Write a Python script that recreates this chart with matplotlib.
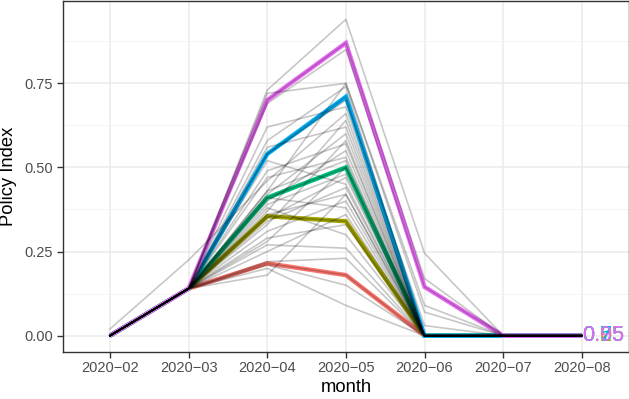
import matplotlib
matplotlib.use("Agg")
import matplotlib.pyplot as plt
import numpy as np

plt.rcParams['font.family'] = ['Liberation Sans', 'DejaVu Sans']

months = ["2020\u221202", "2020\u221203", "2020\u221204", "2020\u221205",
          "2020\u221206", "2020\u221207", "2020\u221208"]

# individual (gray) series
gray_lines = [
    [0.00, 0.14, 0.73, 0.94, 0.245, 0, 0],
    [0.00, 0.14, 0.72, 0.75, 0.09, 0, 0],
    [0.00, 0.14, 0.70, 0.87, 0.17, 0, 0],
    [0.00, 0.14, 0.69, 0.85, 0.145, 0, 0],
    [0.00, 0.14, 0.58, 0.74, 0, 0, 0],
    [0.00, 0.14, 0.56, 0.62, 0, 0, 0],
    [0.00, 0.14, 0.54, 0.71, 0, 0, 0],
    [0.00, 0.14, 0.54, 0.70, 0.03, 0, 0],
    [0.00, 0.14, 0.52, 0.45, 0, 0, 0],
    [0.00, 0.14, 0.49, 0.57, 0, 0, 0],
    [0.02, 0.225, 0.46, 0.66, 0, 0, 0],
    [0.00, 0.14, 0.43, 0.75, 0.07, 0, 0],
    [0.00, 0.14, 0.43, 0.52, 0, 0, 0],
    [0.00, 0.14, 0.42, 0.60, 0, 0, 0],
    [0.00, 0.14, 0.41, 0.50, 0, 0, 0],
    [0.00, 0.14, 0.41, 0.38, 0, 0, 0],
    [0.00, 0.14, 0.40, 0.55, 0, 0, 0],
    [0.00, 0.14, 0.39, 0.48, 0, 0, 0],
    [0.00, 0.14, 0.38, 0.30, 0, 0, 0],
    [0.00, 0.14, 0.37, 0.64, 0, 0, 0],
    [0.00, 0.14, 0.355, 0.34, 0, 0, 0],
    [0.00, 0.14, 0.36, 0.42, 0, 0, 0],
    [0.00, 0.14, 0.35, 0.47, 0, 0, 0],
    [0.00, 0.14, 0.34, 0.44, 0, 0, 0],
    [0.00, 0.14, 0.33, 0.58, 0, 0, 0],
    [0.00, 0.14, 0.31, 0.40, 0, 0, 0],
    [0.00, 0.14, 0.29, 0.33, 0, 0, 0],
    [0.00, 0.14, 0.28, 0.50, 0, 0, 0],
    [0.00, 0.14, 0.27, 0.26, 0, 0, 0],
    [0.00, 0.14, 0.25, 0.36, 0, 0, 0],
    [0.00, 0.14, 0.22, 0.23, 0, 0, 0],
    [0.00, 0.14, 0.215, 0.18, 0, 0, 0],
    [0.00, 0.14, 0.21, 0.15, 0, 0, 0],
    [0.00, 0.14, 0.20, 0.09, 0, 0, 0],
    [0.00, 0.14, 0.18, 0.42, 0, 0, 0],
    [0.00, 0.14, 0.62, 0.68, 0, 0, 0],
    [0.00, 0.14, 0.47, 0.53, 0, 0, 0],
]

# quantile lines
quantile_labels = ["0.05", "0.25", "0.5", "0.75", "0.95"]
quantile_colors = ["#F8766D", "#A3A500", "#00BF7D", "#00B0F6", "#E76BF3"]
q05 = [0, 0.14, 0.215, 0.18, 0, 0, 0]
q25 = [0, 0.14, 0.355, 0.34, 0, 0, 0]
q50 = [0, 0.14, 0.41, 0.50, 0, 0, 0]
q75 = [0, 0.14, 0.54, 0.71, 0, 0, 0]
q95 = [0, 0.14, 0.70, 0.87, 0.145, 0, 0]
quantile_values = [q05, q25, q50, q75, q95]

yticks = [0.00, 0.25, 0.50, 0.75]
ytick_labels = ["0.00", "0.25", "0.50", "0.75"]

W, H = 629, 399
fig = plt.figure(figsize=(W / 100, H / 100), dpi=100)
ax = fig.add_axes([62.8 / W, (H - 351.5) / H, (W - 62.8) / W, (351.5 - 1.2) / H])

x = np.arange(len(months))

for vals, col in zip(quantile_values, quantile_colors):
    ax.plot(x, vals, color=col, lw=3.2, solid_capstyle='butt', solid_joinstyle='miter', zorder=3)

for vals in gray_lines:
    ax.plot(x, vals, color='black', alpha=0.22, lw=1.2, zorder=4)

for lab, vals, col in zip(quantile_labels, quantile_values, quantile_colors):
    ax.text(x[-1], vals[-1], lab, color=col, fontsize=15.5, ha='left', va='center', zorder=5)

ax.set_xlim(-0.6, 6.6)
ax.set_ylim(-0.047, 0.994)
ax.set_xticks(x)
ax.set_xticklabels(months)
ax.set_yticks(yticks)
ax.set_yticklabels(ytick_labels)
ax.set_yticks([0.125, 0.375, 0.625, 0.875], minor=True)

ax.grid(True, which='major', color='#EBEBEB', lw=1.1, zorder=0)
ax.grid(True, which='minor', axis='y', color='#F2F2F2', lw=0.6, zorder=0)
ax.set_axisbelow(True)

for s in ax.spines.values():
    s.set_color('#333333')
    s.set_linewidth(1.0)

ax.tick_params(axis='both', which='major', colors='#333333', labelcolor='#4D4D4D',
               labelsize=10.5, length=4, width=1.0, pad=3)
ax.tick_params(axis='both', which='minor', length=0)

ax.set_xlabel("month", fontsize=13.2, color='black', labelpad=3)
ax.set_ylabel("Policy Index", fontsize=13.2, color='black', labelpad=5)

fig.savefig("out.png", dpi=100)
